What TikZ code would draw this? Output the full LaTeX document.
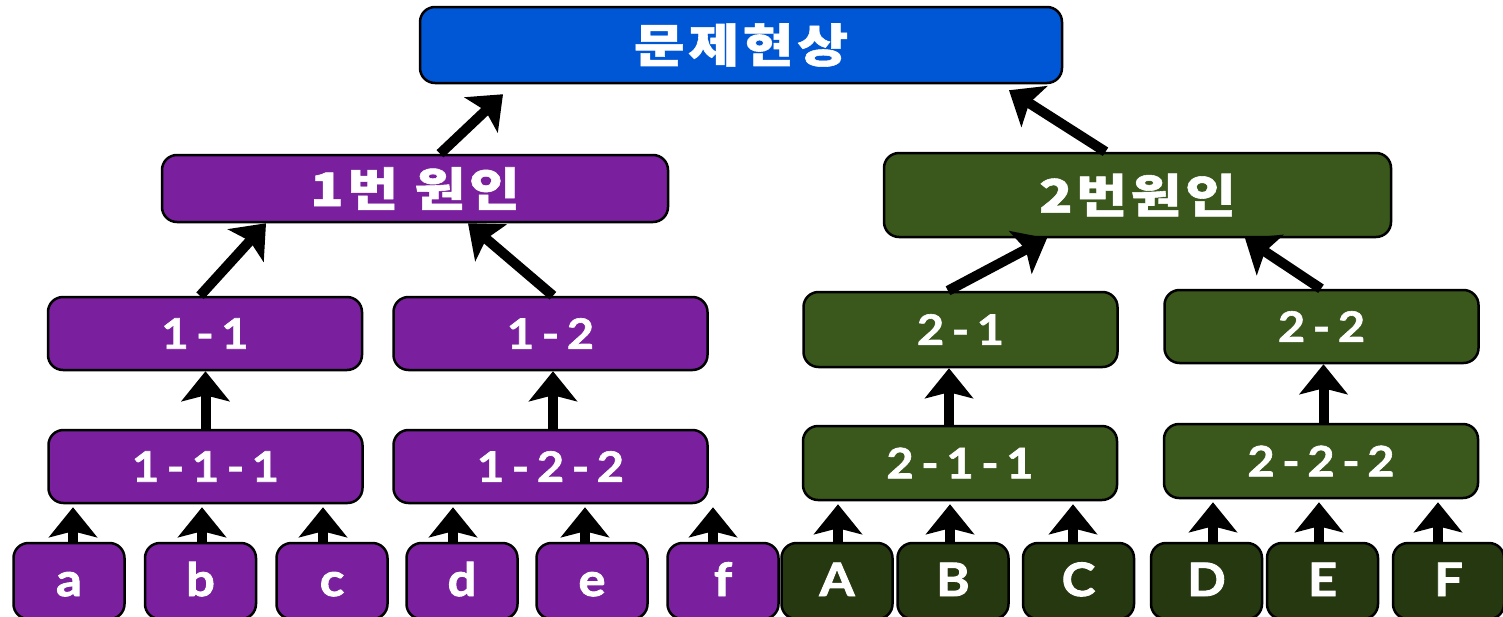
\documentclass[tikz,border=0pt]{standalone}
\usepackage{fontspec}
\setmainfont{Lato}
\newfontfamily\kr{Noto Sans CJK KR}
\usetikzlibrary{arrows.meta}
\definecolor{topblue}{RGB}{0,87,214}
\definecolor{cpurple}{RGB}{122,32,158}
\definecolor{cgreen}{RGB}{58,87,28}
\definecolor{cdgreen}{RGB}{38,56,16}
\tikzset{
  box/.style={draw=black, line width=2.5pt, rounded corners=15pt, text=white, inner sep=0pt},
  pbox/.style={box, fill=cpurple},
  gbox/.style={box, fill=cgreen},
  dbox/.style={box, fill=cdgreen},
  krtxt/.style={font={\kr\bfseries\fontsize{46}{50}\selectfont\addfontfeature{FakeStretch=1.2,FakeBold=1.2,LetterSpace=8}}},
  midtxt/.style={font={\bfseries\fontsize{42}{44}\selectfont\addfontfeature{FakeStretch=1.12,FakeBold=1.5,LetterSpace=18}}},
  leaftxt/.style={font={\bfseries\fontsize{46}{48}\selectfont\addfontfeature{FakeStretch=1.1,FakeBold=2}}},
  midbox/.style={minimum width=314pt, minimum height=73pt, midtxt},
  leaf/.style={minimum width=111pt, minimum height=76pt, text height=30pt, text depth=0pt, leaftxt},
  arr/.style={line width=10pt, -{Stealth[length=30pt,width=48pt,inset=6pt]}}
}
\begin{document}
\begin{tikzpicture}[x=1pt,y=-1pt]
\useasboundingbox (0,0) rectangle (1503,616);
% top
\node[box, fill=topblue, krtxt, minimum width=642pt, minimum height=76pt] (top) at (741,45) {문제현상};
% level 1
\node[pbox, krtxt, minimum width=506pt, minimum height=67pt] (c1) at (415,188.5) {1번 원인};
\node[gbox, krtxt, minimum width=507pt, minimum height=84pt] (c2) at (1137.5,195) {2번원인};
% level 2
\node[pbox, midbox] (n11) at (205,333.5) {1-1};
\node[pbox, midbox] (n12) at (550.5,333.5) {1-2};
\node[gbox, midbox, minimum height=75pt] (n21) at (960.5,329.5) {2-1};
\node[gbox, midbox] (n22) at (1321.5,326.5) {2-2};
% level 3
\node[pbox, midbox] (n111) at (205.5,466.5) {1-1-1};
\node[pbox, midbox] (n122) at (550.5,466.5) {1-2-2};
\node[gbox, midbox, minimum height=74pt] (n211) at (960,463) {2-1-1};
\node[gbox, midbox, minimum height=74pt] (n222) at (1321,461) {2-2-2};
% leaves
\node[pbox, leaf] (la) at (69,581) {a};
\node[pbox, leaf] (lb) at (200.5,581) {b};
\node[pbox, leaf] (lc) at (332,581) {c};
\node[pbox, leaf] (ld) at (462,581) {d};
\node[pbox, leaf] (le) at (592,581) {e};
\node[pbox, leaf] (lf) at (723,581) {f};
\node[dbox, leaf] (lA) at (837,581) {A};
\node[dbox, leaf] (lB) at (953,581) {B};
\node[dbox, leaf] (lC) at (1078.5,581) {C};
\node[dbox, leaf] (lD) at (1206.5,581) {D};
\node[dbox, leaf] (lE) at (1322.5,581) {E};
\node[dbox, leaf] (lF) at (1448.5,581) {F};
% upper arrows
\draw[arr] ([xshift=25pt]c1.north) -- ([xshift=-238pt,yshift=-10pt]top.south);
\draw[arr] ([xshift=-32pt]c2.north) -- ([xshift=268pt,yshift=-6pt]top.south);
\draw[arr] ([xshift=-5pt]n11.north) -- ([xshift=-149pt]c1.south);
\draw[arr] ([xshift=2.5pt]n12.north) -- ([xshift=53pt]c1.south);
\draw[arr] ([xshift=-12.5pt]n21.north) -- ([xshift=-90.5pt]c2.south);
\draw[arr] ([xshift=-0.5pt]n22.north) -- ([xshift=107.5pt]c2.south);
% vertical arrows
\draw[arr] (n111.north) -- (n111.north |- n11.south);
\draw[arr] ([xshift=2.5pt]n122.north) coordinate (v2) -- (v2 |- n12.south);
\draw[arr] ([xshift=-11pt]n211.north) coordinate (v3) -- (v3 |- n21.south);
\draw[arr] ([xshift=2.5pt]n222.north) coordinate (v4) -- (v4 |- n22.south);
% leaf arrows
\foreach \l/\dx/\p in {la/4/n111, lb/1.5/n111, lc/-9/n111, ld/-9/n122, le/-7/n122, lf/-10/n122,
                       lA/1/n211, lB/-3/n211, lC/-5.5/n211, lD/6.5/n222, lE/-3.5/n222, lF/-10.5/n222}{
  \draw[arr, shorten >=3pt] ([xshift=\dx pt]\l.north) coordinate (t) -- (t |- \p.south);
}
\end{tikzpicture}
\end{document}
